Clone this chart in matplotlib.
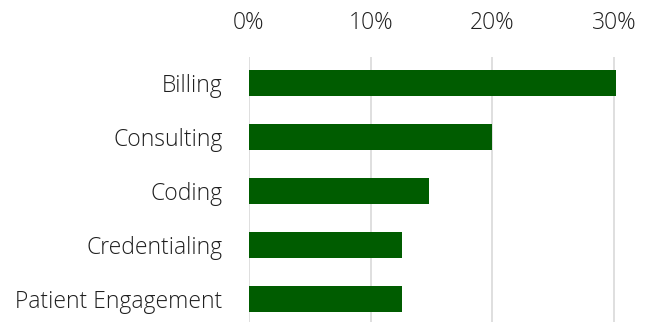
import matplotlib
matplotlib.use("Agg")
from matplotlib import pyplot as plt
from matplotlib.ticker import PercentFormatter

# data
categories = ["Billing", "Consulting", "Coding", "Credentialing", "Patient Engagement"]
shares = [30.2, 20.0, 14.8, 12.6, 12.6]
ticks = [0, 10, 20, 30]

plt.rcParams["font.family"] = ["Open Sans", "DejaVu Sans"]
plt.rcParams["font.weight"] = 300

fig = plt.figure(figsize=(6.52, 3.22), dpi=100)
ax = fig.add_axes([249 / 652, 0, (638.4 - 249) / 652, 1 - 57 / 322])

ax.barh(range(len(categories)), shares, height=0.48, color="#005c00", zorder=3)

ax.set_xlim(0, 32)
ax.set_ylim(4.43, -0.48)
ax.set_xticks(ticks)
ax.xaxis.set_major_formatter(PercentFormatter(decimals=0))
ax.xaxis.tick_top()
ax.set_yticks(range(len(categories)))
ax.set_yticklabels(categories)

ax.grid(axis="x", color="#d9d9d9", linewidth=1.2, zorder=0)
for s in ax.spines.values():
    s.set_visible(False)
ax.tick_params(axis="x", length=0, pad=16, labelsize=16.5, colors="#1f1f1f")
ax.tick_params(axis="y", length=0, pad=19, labelsize=16.5, colors="#1f1f1f")

fig.savefig("out.png", dpi=100)
